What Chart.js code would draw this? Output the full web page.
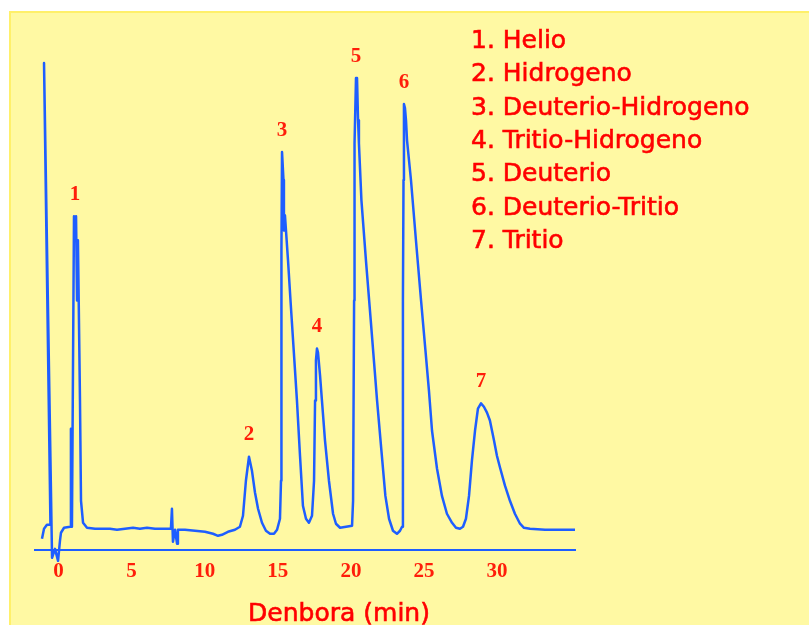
<!DOCTYPE html>
<html><head><meta charset="utf-8">
<script src="https://cdn.jsdelivr.net/npm/chart.js@4.4.0/dist/chart.umd.min.js"></script>
<style>
html,body{margin:0;padding:0;background:#fff;width:809px;height:625px;overflow:hidden}
#panel{position:absolute;left:9px;top:11px;width:800px;height:614px;background:#FFF9A3;border-left:2px solid #FFF06A;border-top:2px solid #FFF06A;box-sizing:border-box}
#c{position:absolute;left:0;top:0}
</style></head><body>
<div id="panel"></div>
<canvas id="c" width="809" height="625"></canvas>
<script>
// Retention time (min) of each traced point of the chromatogram
const timeMin = [-1.13,-0.99,-0.79,-0.55,-0.99,-0.44,-0.24,-0.03,0.10,0.17,
  0.38,0.79,0.85,0.92,1.06,1.13,1.20,1.27,1.33,1.47,
  1.54,1.68,1.95,2.50,2.84,3.52,4.00,4.55,5.10,5.57,
  6.05,6.60,7.15,7.69,7.76,7.83,7.97,8.11,8.17,8.65,
  9.34,10.02,10.57,10.91,11.18,11.59,12.07,12.41,12.62,12.82,
  13.03,13.23,13.44,13.65,13.92,14.19,14.47,14.74,14.95,15.15,
  15.22,15.25,15.29,15.39,15.42,15.49,15.70,15.87,16.09,16.31,
  16.52,16.72,16.93,17.13,17.34,17.48,17.55,17.61,17.68,17.75,
  17.89,18.02,18.23,18.50,18.78,18.98,19.26,19.67,20.08,20.15,
  20.22,20.25,20.35,20.42,20.49,20.55,20.72,21.03,21.36,21.63,
  21.79,22.09,22.36,22.61,22.88,23.15,23.36,23.50,23.56,23.56,
  23.60,23.63,23.70,23.77,23.84,24.11,24.45,24.80,25.10,25.34,
  25.55,25.89,26.23,26.57,26.92,27.19,27.46,27.67,27.87,28.08,
  28.28,28.49,28.69,28.90,29.10,29.31,29.51,29.79,29.99,30.20,
  30.54,30.88,31.22,31.57,31.84,32.25,33.28,34.30,35.33];
// Detector signal (arbitrary units) at each point
const signal = [2.25,4.29,5.11,5.11,99.4,-1.64,0.2,-2.25,1.84,3.48,
  4.50,4.70,24.7,4.70,68.1,66.3,68.1,50.9,63.2,30.5,
  10.0,5.52,4.50,4.29,4.29,4.29,4.09,4.29,4.50,4.29,
  4.50,4.29,4.29,4.29,8.38,1.64,4.09,1.23,4.09,4.09,
  3.89,3.68,3.27,2.86,3.07,3.68,4.09,4.70,6.95,14.1,
  19.0,16.2,11.7,8.38,5.52,3.89,3.27,3.27,4.09,6.34,
  14.1,61.1,81.2,75.5,65.2,68.3,59.1,50.9,40.7,30.5,
  19.2,9.0,6.34,5.52,6.95,14.1,30.5,38.7,41.1,40.3,
  35.6,30.5,22.3,14.1,7.36,5.32,4.50,4.70,4.91,10.0,
  50.9,83.0,96.3,96.3,87.7,83.0,71.4,59.1,46.8,36.6,
  30.5,20.2,11.0,6.34,3.89,3.27,3.89,4.70,20.2,50.9,
  75.5,91.0,90.2,87.7,83.6,75.5,63.2,50.9,40.7,32.5,
  24.3,16.6,11.0,7.36,5.52,4.50,4.29,4.70,6.34,11.0,
  18.2,24.3,28.8,29.9,29.2,28.0,26.4,22.3,19.2,16.8,
  13.1,10.0,7.36,5.32,4.50,4.29,4.09,4.09,4.09];
const xTicks = [0,5,10,15,20,25,30];
const xTickLabels = ['0','5','10','15','20','25','30'];
const peakNumbers = ['1','2','3','4','5','6','7'];
const peakTimes = [1.13,13.03,15.29,17.68,20.35,23.63,28.90];
const peakHeights = [68.1,19.0,81.2,41.1,96.3,91.0,29.9];
const compoundNames = ['1. Helio','2. Hidrogeno','3. Deuterio-Hidrogeno','4. Tritio-Hidrogeno','5. Deuterio','6. Deuterio-Tritio','7. Tritio'];
const axisTitle = 'Denbora (min)';

const RED = '#FF1E0A';
const BLUE = '#1E5EFF';

const textPlugin = {
  id: 'texts',
  afterDatasetsDraw(chart) {
    const {ctx, scales: {x, y}, chartArea} = chart;
    ctx.save();
    ctx.fillStyle = RED;
    ctx.font = 'bold 21px "Liberation Serif"';
    ctx.textAlign = 'center';
    ctx.textBaseline = 'middle';
    peakNumbers.forEach((lab, i) => {
      ctx.fillText(lab, x.getPixelForValue(peakTimes[i]), y.getPixelForValue(peakHeights[i]) - 22);
    });
    ctx.fillStyle = '#FF0000';
    ctx.strokeStyle = '#FF0000';
    ctx.lineWidth = 0.6;
    ctx.font = '25px "DejaVu Sans"';
    ctx.textAlign = 'left';
    ctx.textBaseline = 'alphabetic';
    compoundNames.forEach((n, i) => {
      ctx.fillText(n, 471, 48 + i * 33.35);
      ctx.strokeText(n, 471, 48 + i * 33.35);
    });
    ctx.textAlign = 'center';
    const tx = chartArea.left + (chartArea.right - chartArea.left) * 0.563;
    ctx.fillText(axisTitle, tx, 621);
    ctx.strokeText(axisTitle, tx, 621);
    ctx.restore();
  }
};

new Chart(document.getElementById('c'), {
  type: 'scatter',
  data: {
    datasets: [{
      label: 'Kromatograma',
      data: timeMin.map((t, i) => ({x: t, y: signal[i]})),
      showLine: true,
      borderColor: BLUE,
      borderWidth: 2.5,
      borderJoinStyle: 'round',
      pointRadius: 0,
      tension: 0,
      clip: false
    }]
  },
  options: {
    responsive: false,
    animation: false,
    layout: {padding: {left: 35, right: 234, top: 60, bottom: 32}},
    plugins: {legend: {display: false}, tooltip: {enabled: false}},
    scales: {
      x: {
        type: 'linear', min: -1.607, max: 35.33,
        afterBuildTicks: s => { s.ticks = xTicks.map(v => ({value: v})); },
        ticks: {
          callback: (v) => { const i = xTicks.indexOf(v); return i >= 0 ? xTickLabels[i] : ''; },
          color: RED, font: {family: '"Liberation Serif"', size: 21, weight: 'bold'},
          padding: 9, maxRotation: 0, autoSkip: false
        },
        grid: {display: false, drawTicks: false},
        border: {display: true, color: BLUE, width: 2}
      },
      y: {display: false, min: 0, max: 100}
    }
  },
  plugins: [textPlugin]
});
</script>
</body></html>
